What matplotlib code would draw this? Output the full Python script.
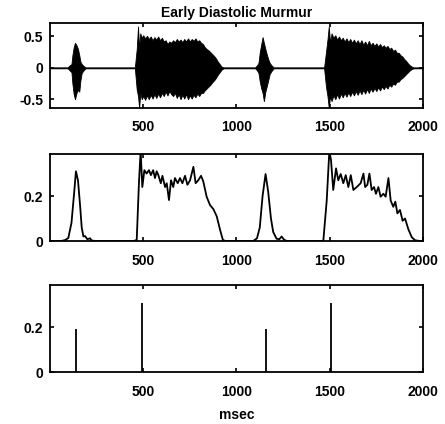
import numpy as np
import matplotlib.pyplot as plt

plt.rcParams['font.family'] = ['Liberation Sans', 'DejaVu Sans']
plt.rcParams['font.weight'] = 'bold'
plt.rcParams['font.size'] = 10

# top panel: amplitude envelope of the heart sound (upper / lower edges), msec
snd_t = [0, 95, 105, 115, 120, 127, 134, 142, 150, 157, 163, 170, 180, 190,
         455, 465, 472, 478, 484, 492, 500, 510, 520, 530, 540, 550, 560, 570,
         580, 590, 600, 610, 620, 630, 640, 650, 660, 670, 680, 690, 700, 710,
         720, 730, 740, 750, 760, 770, 780, 790, 800, 810, 820, 830, 840, 850,
         860, 870, 880, 890, 900, 910, 920, 930,
         1100, 1110, 1118, 1125, 1133, 1140, 1147, 1155, 1162, 1170, 1178, 1188, 1200,
         1470, 1480, 1488, 1495, 1502, 1510, 1520, 1530, 1540, 1550, 1560, 1570,
         1580, 1590, 1600, 1610, 1620, 1630, 1640, 1650, 1660, 1670, 1680, 1690,
         1700, 1710, 1720, 1730, 1740, 1750, 1760, 1770, 1780, 1790, 1800, 1810,
         1820, 1830, 1840, 1850, 1860, 1870, 1880, 1890, 1900, 1910, 1920, 1930,
         1940, 1950, 2000]
snd_hi = [0.008, 0.008, 0.04, 0.06, 0.20, 0.33, 0.40, 0.36, 0.30, 0.20, 0.10, 0.06, 0.03, 0.008,
          0.008, 0.30, 0.66, 0.30, 0.55, 0.48, 0.52, 0.47, 0.51, 0.46, 0.50, 0.44, 0.49, 0.45,
          0.50, 0.44, 0.48, 0.42, 0.44, 0.38, 0.42, 0.40, 0.44, 0.41, 0.46, 0.42, 0.45, 0.41,
          0.46, 0.42, 0.47, 0.42, 0.46, 0.43, 0.47, 0.42, 0.44, 0.40, 0.38, 0.33, 0.30, 0.28,
          0.25, 0.22, 0.19, 0.15, 0.10, 0.06, 0.02, 0.008,
          0.008, 0.04, 0.08, 0.25, 0.38, 0.49, 0.40, 0.30, 0.22, 0.14, 0.08, 0.04, 0.008,
          0.008, 0.25, 0.45, 0.66, 0.40, 0.55, 0.48, 0.52, 0.45, 0.50, 0.44, 0.48,
          0.42, 0.47, 0.41, 0.46, 0.40, 0.45, 0.39, 0.44, 0.38, 0.44, 0.37, 0.42,
          0.36, 0.43, 0.36, 0.40, 0.35, 0.39, 0.34, 0.38, 0.33, 0.36, 0.32, 0.35,
          0.30, 0.32, 0.27, 0.29, 0.24, 0.24, 0.20, 0.18, 0.14, 0.11, 0.07, 0.04,
          0.02, 0.008, 0.008]
snd_lo = [-0.008, -0.008, -0.04, -0.07, -0.25, -0.42, -0.50, -0.40, -0.35, -0.38, -0.20, -0.08, -0.04, -0.008,
          -0.008, -0.35, -0.45, -0.64, -0.40, -0.50, -0.45, -0.51, -0.44, -0.50, -0.43, -0.49, -0.42, -0.48,
          -0.41, -0.47, -0.40, -0.45, -0.38, -0.44, -0.37, -0.42, -0.45, -0.40, -0.48, -0.42, -0.50, -0.43,
          -0.49, -0.42, -0.50, -0.44, -0.49, -0.43, -0.47, -0.41, -0.45, -0.40, -0.40, -0.36, -0.33, -0.30,
          -0.27, -0.23, -0.20, -0.16, -0.11, -0.07, -0.03, -0.008,
          -0.008, -0.04, -0.08, -0.22, -0.33, -0.40, -0.53, -0.38, -0.30, -0.20, -0.10, -0.05, -0.008,
          -0.008, -0.30, -0.45, -0.64, -0.45, -0.53, -0.44, -0.50, -0.42, -0.49, -0.41, -0.47,
          -0.40, -0.46, -0.39, -0.45, -0.38, -0.44, -0.37, -0.43, -0.36, -0.42, -0.35, -0.41,
          -0.34, -0.40, -0.33, -0.38, -0.32, -0.37, -0.31, -0.36, -0.30, -0.34, -0.29, -0.33,
          -0.27, -0.30, -0.25, -0.27, -0.22, -0.22, -0.18, -0.16, -0.13, -0.10, -0.07, -0.04,
          -0.02, -0.008, -0.008]

# middle panel: smoothed envelope
env_t = [0, 60, 80, 98, 115, 130, 139, 150, 162, 170, 179, 188, 200, 215, 222, 240,
         450, 465, 477, 486, 495, 506, 518, 531, 541, 553, 563, 572, 581, 594, 603,
         617, 626, 638, 649, 661, 670, 685, 697, 710, 724, 737, 751, 769, 781, 795,
         810, 822, 840, 858, 876, 894, 912, 927, 940,
         1090, 1110, 1125, 1140, 1156, 1170, 1185, 1197, 1215, 1230, 1242, 1255, 1270,
         1460, 1466, 1484, 1498, 1507, 1519, 1534, 1546, 1559, 1573, 1586, 1600, 1613,
         1627, 1645, 1666, 1681, 1690, 1702, 1713, 1725, 1738, 1748, 1761, 1773, 1788,
         1800, 1815, 1827, 1841, 1852, 1863, 1877, 1891, 1904, 1922, 1940, 1958, 1985, 2000]
env_v = [0, 0, 0.004, 0.013, 0.08, 0.22, 0.31, 0.27, 0.15, 0.06, 0.02, 0.022, 0.008, 0.012, 0.003, 0,
         0, 0.005, 0.26, 0.40, 0.24, 0.315, 0.30, 0.315, 0.293, 0.315, 0.28, 0.31, 0.293, 0.257, 0.29,
         0.24, 0.257, 0.182, 0.27, 0.24, 0.28, 0.257, 0.28, 0.257, 0.29, 0.25, 0.27, 0.33, 0.257, 0.27,
         0.29, 0.265, 0.197, 0.16, 0.142, 0.11, 0.05, 0.005, 0,
         0, 0.012, 0.06, 0.20, 0.298, 0.22, 0.10, 0.04, 0.01, 0.008, 0.02, 0.006, 0,
         0, 0.003, 0.18, 0.40, 0.36, 0.227, 0.323, 0.27, 0.298, 0.257, 0.293, 0.24, 0.293,
         0.227, 0.24, 0.257, 0.30, 0.24, 0.25, 0.30, 0.227, 0.24, 0.21, 0.24, 0.197, 0.21,
         0.197, 0.28, 0.18, 0.152, 0.175, 0.123, 0.138, 0.09, 0.10, 0.052, 0.017, 0.003, 0, 0]

# bottom panel: detected sound onsets
peak_t = [139, 491, 1156, 1506]
peak_v = [0.19, 0.305, 0.19, 0.305]

xtick_vals = [500, 1000, 1500, 2000]

fig = plt.figure(figsize=(4.45, 4.24), dpi=100)
ax1 = fig.add_axes([0.1124, 0.7453, 0.838, 0.2005])
ax2 = fig.add_axes([0.1124, 0.4316, 0.838, 0.2052])
ax3 = fig.add_axes([0.1124, 0.1226, 0.838, 0.2052])

ax1.fill_between(snd_t, snd_lo, snd_hi, color='black', lw=0.6)
ax1.set_ylim(-0.64, 0.715)
ax1.set_yticks([-0.5, 0, 0.5])
ax1.set_yticklabels(['-0.5', '0', '0.5'])
ax1.set_title('Early Diastolic Murmur', fontsize=10, fontweight='bold', pad=4)

ax2.plot(env_t, env_v, color='black', lw=1.3)
ax2.set_ylim(0, 0.387)
ax2.set_yticks([0, 0.2])
ax2.set_yticklabels(['0', '0.2'])

ax3.vlines(peak_t, 0, peak_v, color='black', lw=1.3)
ax3.set_ylim(0, 0.387)
ax3.set_yticks([0, 0.2])
ax3.set_yticklabels(['0', '0.2'])
ax3.set_xlabel('msec', fontsize=10, fontweight='bold', labelpad=7)

for ax in (ax1, ax2, ax3):
    ax.set_xlim(0, 2000)
    ax.set_xticks(xtick_vals)
    ax.set_xticklabels([str(v) for v in xtick_vals])
    ax.tick_params(direction='in', length=3, width=1.2, top=True, right=True,
                   labelsize=10, pad=5)
    ax.tick_params(axis='x', pad=9)
    for s in ax.spines.values():
        s.set_linewidth(1.3)

fig.savefig('out.png', dpi=100)
